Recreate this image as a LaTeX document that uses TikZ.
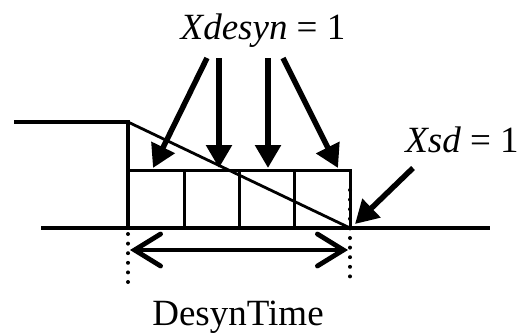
\documentclass[tikz,border=0pt]{standalone}
\usepackage{fontspec}
\setmainfont{Liberation Serif}
\usetikzlibrary{positioning,arrows.meta,calc}
\definecolor{inkBlack}{HTML}{000000}
\tikzset{
    label/.style={font=\fontsize{37}{40}\selectfont,text=inkBlack,inner sep=0pt,anchor=base},
    signal/.style={draw=inkBlack,line width=3.8pt},
    cell/.style={draw=inkBlack,line width=3pt},
    ramp/.style={draw=inkBlack,line width=2.8pt},
    pointer/.style={-{Triangle[length=23pt,width=25pt]},draw=inkBlack,line width=5.5pt},
    span/.style={{Straight Barb[length=26pt,width=32pt,line cap=round]}-{Straight Barb[length=26pt,width=32pt,line cap=round]},
        draw=inkBlack,line width=4.8pt},
    guide/.style={draw=inkBlack,line width=4pt,line cap=round,dash pattern=on 0pt off 9.6pt}
}
\begin{document}
\begin{tikzpicture}[x=1pt,y=-1pt]
    \useasboundingbox (0,0) rectangle (520,333);
    % Eckpunkte des Verlaufs
    \coordinate (hiL) at (14,122);
    \coordinate (hiR) at (128,122);
    \coordinate (baseL) at (41,228);
    \coordinate (baseR) at (490,228);
    \coordinate (tStart) at (128,228);
    \coordinate (tEnd) at (350,228);
    \coordinate (boxTL) at (128,170);
    \coordinate (boxTR) at (350,170);

    % Beschriftungen
    \node[label] (desyn) at (263,39) {\textit{Xdesyn} = 1};
    \node[label] (sd) at (462,152) {\textit{Xsd} = 1};
    \node[label] (time) at (238,325) {DesynTime};

    % Signalverlauf und Zellen
    \draw[signal] (hiL) -- (hiR) -- (tStart);
    \draw[signal] (baseL) -- (baseR);
    \draw[signal,line width=4.8pt] (tStart) -- (tEnd);
    \draw[cell] (boxTL) -- (boxTR) -- (tEnd);
    \foreach \cx in {184,239,294}
        \draw[cell] (\cx,170) -- (\cx,228);
    \draw[ramp] (hiR) -- (tEnd);

    % Pfeile von oben
    \coordinate (p1) at (207,58);
    \coordinate (p2) at (219,58);
    \coordinate (p3) at (268,58);
    \coordinate (p4) at (283,58);
    \draw[pointer] (p1) -- (153,168);
    \draw[pointer] (p2) -- (219,168);
    \draw[pointer] (p3) -- (268,168);
    \draw[pointer] (p4) -- (338,168);
    \coordinate (q) at (413,168);
    \draw[pointer] (q) -- (355,224);

    % Zeitspanne
    \draw[guide] (128,234) -- (128,283);
    \draw[guide] (350,190) -- (350,283);
    \draw[span] (130,250) -- (348,250);
\end{tikzpicture}
\end{document}
